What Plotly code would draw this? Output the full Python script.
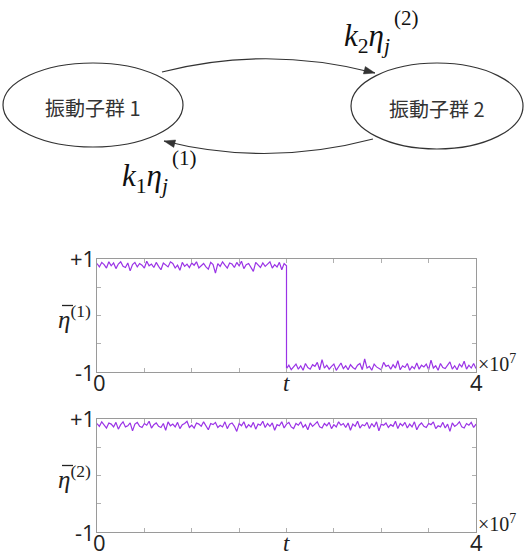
import numpy as np
import plotly.graph_objects as go

# ---------------- data ----------------
# group 1 mean order parameter: high state until the switch at t=2 (x1e7), then low state
eta1_high = [0.92,0.86,0.94,0.90,0.84,0.95,0.88,0.93,0.83,0.91,
             0.95,0.87,0.85,0.93,0.79,0.90,0.94,0.86,0.92,0.89,
             0.84,0.96,0.88,0.91,0.85,0.94,0.87,0.81,0.93,0.90,
             0.86,0.95,0.92,0.84,0.89,0.80,0.94,0.87,0.91,0.85,
             0.93,0.89,0.95,0.84,0.88,0.92,0.86,0.82,0.94,0.90,
             0.75,0.92,0.87,0.95,0.89,0.84,0.93,0.91,0.85,0.94,
             0.88,0.96,0.83,0.90,0.92,0.86,0.78,0.94,0.89,0.85,
             0.93,0.87,0.91,0.95,0.84,0.90,0.86,0.94,0.81,0.92,0.88]
eta1_low = [-0.94,-0.88,-0.96,-0.91,-0.86,-0.95,-0.89,-0.97,-0.85,-0.92,
            -0.95,-0.87,-0.90,-0.83,-0.96,-0.78,-0.93,-0.88,-0.95,-0.90,
            -0.86,-0.97,-0.91,-0.84,-0.94,-0.89,-0.96,-0.87,-0.92,-0.95,
            -0.88,-0.85,-0.96,-0.77,-0.93,-0.90,-0.97,-0.86,-0.91,-0.94,
            -0.96,-0.83,-0.90,-0.88,-0.95,-0.87,-0.93,-0.80,-0.96,-0.89,
            -0.92,-0.85,-0.97,-0.90,-0.94,-0.84,-0.95,-0.88,-0.91,-0.86,
            -0.96,-0.79,-0.93,-0.89,-0.97,-0.85,-0.92,-0.94,-0.87,-0.82,
            -0.95,-0.89,-0.96,-0.86,-0.91,-0.81,-0.95,-0.88,-0.93,-0.85,-0.94]
# group 2 stays in the high state
eta2 = [0.92,0.87,0.95,0.89,0.84,0.93,0.91,0.86,0.94,0.82,
        0.90,0.95,0.86,0.88,0.93,0.79,0.91,0.94,0.87,0.85,
        0.92,0.89,0.96,0.84,0.90,0.93,0.87,0.85,0.92,0.80,
        0.95,0.88,0.91,0.86,0.94,0.83,0.90,0.92,0.96,0.85,
        0.89,0.84,0.93,0.91,0.87,0.95,0.88,0.81,0.92,0.90,
        0.94,0.85,0.89,0.86,0.95,0.83,0.91,0.93,0.87,0.78,
        0.92,0.88,0.95,0.84,0.90,0.86,0.94,0.82,0.91,0.89,
        0.96,0.85,0.92,0.87,0.93,0.80,0.90,0.88,0.95,0.84,
        0.91,0.94,0.86,0.83,0.92,0.89,0.95,0.85,0.90,0.81,
        0.93,0.87,0.91,0.95,0.86,0.84,0.92,0.88,0.94,0.83,
        0.90,0.86,0.95,0.89,0.92,0.85,0.93,0.80,0.91,0.87,
        0.96,0.84,0.90,0.88,0.94,0.83,0.92,0.86,0.95,0.79,
        0.91,0.89,0.93,0.85,0.90,0.87,0.96,0.83,0.92,0.88,
        0.94,0.84,0.91,0.86,0.95,0.81,0.89,0.93,0.87,0.85,
        0.92,0.90,0.95,0.83,0.88,0.86,0.94,0.84,0.91,0.78,
        0.93,0.87,0.90,0.95,0.86,0.84,0.92,0.89,0.94,0.85,0.91]
t_switch = 2.0
t_end = 4.0
x_ticks = [0, 4]
y_ticks = ["-1", "+1"]
group_names = ["振動子群 1", "振動子群 2"]

t1 = [float(v) for v in np.linspace(0, t_switch, len(eta1_high))] + \
     [float(v) for v in np.linspace(t_switch, t_end, len(eta1_low))]
v1 = eta1_high + eta1_low
t2 = [float(v) for v in np.linspace(0, t_end, len(eta2))]

# ---------------- figure ----------------
W, H = 527, 556
LINE = "#9a33e6"
FRAME = "#9a9a9a"
SERIF = "Liberation Serif, serif"
SANS = "Open Sans, sans-serif"

def PX(x):
    return x / W

def PY(y):
    return 1 - y / H

fig = go.Figure()
fig.add_trace(go.Scatter(x=t1, y=v1, mode="lines", line=dict(color=LINE, width=1.2),
                         xaxis="x", yaxis="y", showlegend=False, hoverinfo="skip"))
fig.add_trace(go.Scatter(x=t2, y=eta2, mode="lines", line=dict(color=LINE, width=1.2),
                         xaxis="x2", yaxis="y2", showlegend=False, hoverinfo="skip"))

xd = [PX(97), PX(476)]
ax_common = dict(range=[0, 4], dtick=0.5, tick0=0, ticks="inside", ticklen=4, tickcolor="#b0b0b0",
                 showline=True, linecolor=FRAME, linewidth=1, mirror="allticks",
                 showticklabels=False, showgrid=False, zeroline=False, fixedrange=True)
ay_common = dict(range=[-1, 1], dtick=0.5, tick0=-1, ticks="inside", ticklen=4, tickcolor="#b0b0b0",
                 showline=True, linecolor=FRAME, linewidth=1, mirror="allticks",
                 showticklabels=False, showgrid=False, zeroline=False, fixedrange=True)

panels = [(259, 372), (419, 532)]  # top/bottom pixel rows of the two frames

fig.update_layout(
    width=W, height=H, margin=dict(l=0, r=0, t=0, b=0),
    paper_bgcolor="white", plot_bgcolor="white",
    xaxis=dict(domain=xd, anchor="y", **ax_common),
    yaxis=dict(domain=[PY(panels[0][1]), PY(panels[0][0])], anchor="x", **ay_common),
    xaxis2=dict(domain=xd, anchor="y2", **ax_common),
    yaxis2=dict(domain=[PY(panels[1][1]), PY(panels[1][0])], anchor="x2", **ay_common),
)

shapes = []
annotations = []

# ---------------- diagram (pixel positions converted to paper) ----------------
ellipses = [(93, 105, 90, 42), (437, 106, 86, 43)]
for (cx, cy, rx, ry), name in zip(ellipses, group_names):
    shapes.append(dict(type="circle", xref="paper", yref="paper", x0=PX(cx - rx), x1=PX(cx + rx),
                       y0=PY(cy + ry), y1=PY(cy - ry), line=dict(color="#333333", width=1.2)))
    annotations.append(dict(xref="paper", yref="paper", x=PX(cx), y=PY(cy + 2), text=name,
                            showarrow=False,
                            font=dict(family="Noto Sans CJK JP", size=20, color="#333333"),
                            xanchor="center", yanchor="middle"))

def arc(p0, c, p1):
    path = (f"M {PX(p0[0]):.5f} {PY(p0[1]):.5f} Q {PX(c[0]):.5f} {PY(c[1]):.5f} "
            f"{PX(p1[0]):.5f} {PY(p1[1]):.5f}")
    shapes.append(dict(type="path", xref="paper", yref="paper", path=path,
                       line=dict(color="#333333", width=1.2)))
    d = np.array(p1, float) - np.array(c, float)
    u = d / np.linalg.norm(d)
    n = np.array([-u[1], u[0]])
    tip = np.array(p1, float)
    base = tip - 11 * u
    a = base + 3.8 * n
    b = base - 3.8 * n
    tri = (f"M {PX(tip[0]):.5f} {PY(tip[1]):.5f} L {PX(a[0]):.5f} {PY(a[1]):.5f} "
           f"L {PX(b[0]):.5f} {PY(b[1]):.5f} Z")
    shapes.append(dict(type="path", xref="paper", yref="paper", path=tri,
                       fillcolor="#333333", line=dict(color="#333333", width=0.5)))

arc((162, 72), (267, 45), (375, 73))
arc((373, 139), (267, 167), (164, 141))

def math_label(x, y, k_idx):
    annotations.append(dict(xref="paper", yref="paper", x=PX(x), y=PY(y),
                            text=f"<i>k</i><sub>{k_idx}</sub><i>η</i><sub><i>j</i></sub>",
                            showarrow=False, xanchor="left", yanchor="middle",
                            font=dict(family=SERIF, size=31, color="#111111")))
    annotations.append(dict(xref="paper", yref="paper", x=PX(x + 50), y=PY(y - 20), text=f"({k_idx})",
                            showarrow=False, xanchor="left", yanchor="middle",
                            font=dict(family=SERIF, size=21, color="#111111")))

math_label(342, 38, 2)
math_label(120, 178, 1)

# ---------------- axis texts ----------------
for (xa, ya, idx), (ptop, pbot) in zip([("x", "y", 1), ("x2", "y2", 2)], panels):
    tf = dict(family=SANS, size=22, color="#222222")
    annotations += [
        dict(xref=xa, yref=ya, x=0, y=1, text=y_ticks[1], showarrow=False,
             xanchor="right", yanchor="middle", xshift=0, yshift=1, font=tf),
        dict(xref=xa, yref=ya, x=0, y=-1, text=y_ticks[0], showarrow=False,
             xanchor="right", yanchor="middle", xshift=0, yshift=0, font=tf),
        dict(xref=xa, yref=ya, x=x_ticks[0], y=-1, text=str(x_ticks[0]), showarrow=False,
             xanchor="center", yanchor="middle", xshift=2, yshift=-10, font=tf),
        dict(xref=xa, yref=ya, x=x_ticks[1], y=-1, text=str(x_ticks[1]), showarrow=False,
             xanchor="center", yanchor="middle", xshift=0, yshift=-10, font=tf),
        dict(xref=xa, yref=ya, x=2, y=-1, text="<i>t</i>", showarrow=False,
             xanchor="center", yanchor="middle", yshift=-11,
             font=dict(family=SERIF, size=23, color="#222222")),
        dict(xref=xa, yref=ya, x=4, y=-1, text="×10<sup>7</sup>", showarrow=False,
             xanchor="left", yanchor="middle", xshift=0, yshift=9,
             font=dict(family=SERIF, size=20, color="#222222")),
        dict(xref=xa, yref=ya, x=0, y=0, text=f"<i>η</i><sup>({idx})</sup>", showarrow=False,
             xanchor="right", yanchor="middle", xshift=-4, yshift=-1,
             font=dict(family=SERIF, size=25, color="#222222")),
    ]
    # bar over eta
    ymid = (ptop + pbot) / 2
    shapes.append(dict(type="line", xref="paper", yref="paper",
                       x0=PX(62), x1=PX(73), y0=PY(ymid - 10), y1=PY(ymid - 10),
                       line=dict(color="#222222", width=1.3)))

fig.update_layout(shapes=shapes, annotations=annotations)
fig.write_html("out.html", config={"displayModeBar": False},
               post_script="document.body.style.margin='0px';")
